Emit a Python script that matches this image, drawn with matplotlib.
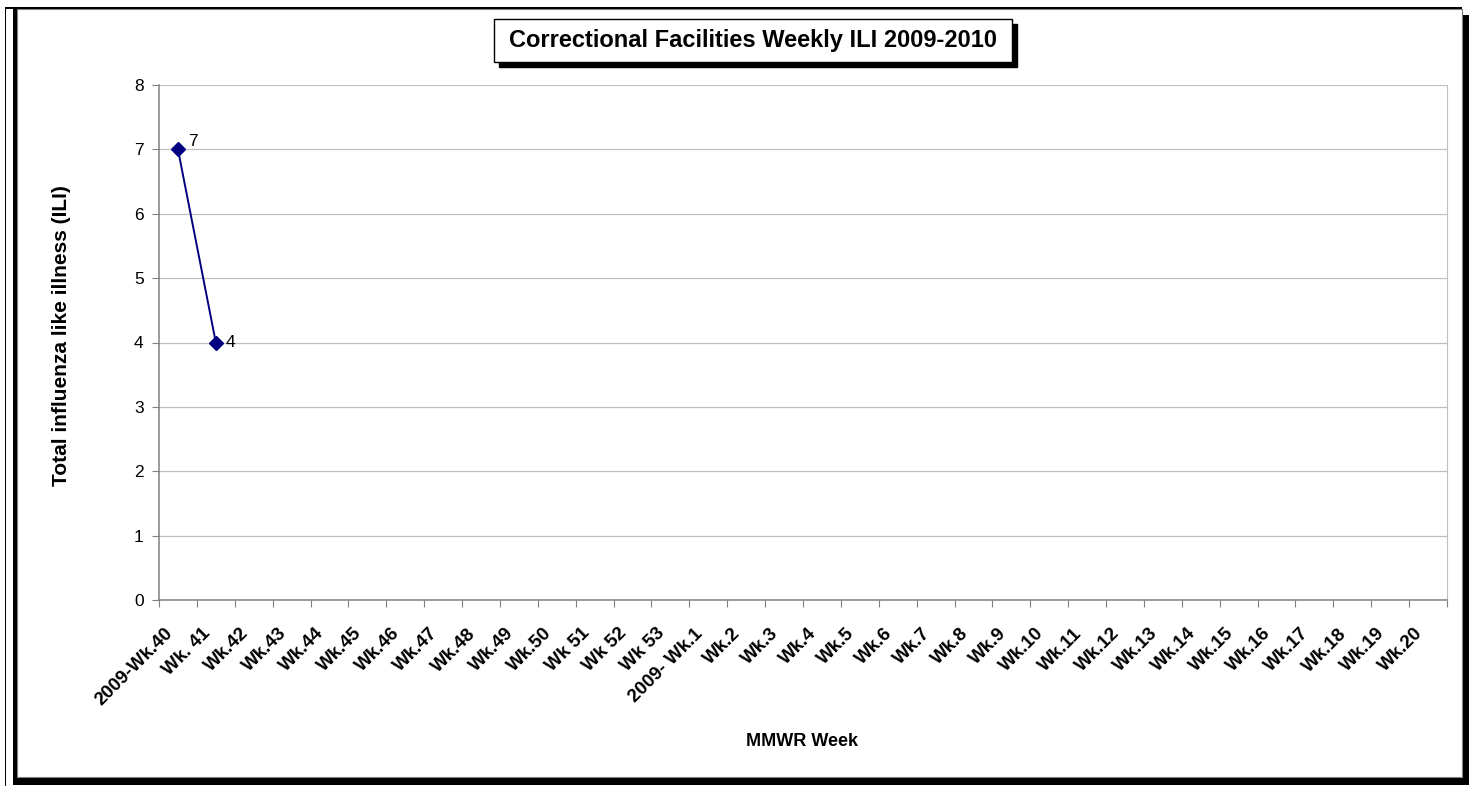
import matplotlib
matplotlib.use("Agg")
import matplotlib.pyplot as plt
from matplotlib.patches import Rectangle
from matplotlib.transforms import ScaledTranslation, blended_transform_factory

plt.rcParams['font.family'] = ['Liberation Sans', 'DejaVu Sans']

categories = ["2009-Wk.40", "Wk. 41", "Wk.42", "Wk.43", "Wk.44", "Wk.45", "Wk.46",
              "Wk.47", "Wk.48", "Wk.49", "Wk.50", "Wk 51", "Wk 52", "Wk 53",
              "2009- Wk.1", "Wk.2", "Wk.3", "Wk.4", "Wk.5", "Wk.6", "Wk.7", "Wk.8",
              "Wk.9", "Wk.10", "Wk.11", "Wk.12", "Wk.13", "Wk.14", "Wk.15", "Wk.16",
              "Wk.17", "Wk.18", "Wk.19", "Wk.20"]
ili_values = [7, 4]

W, H = 1473, 789
fig = plt.figure(figsize=(W / 100, H / 100), dpi=100)

def fx(x): return x / W
def fy(y): return 1 - y / H

# plot area: x 159..1447, y 85..600
ax = fig.add_axes([fx(159), fy(600), fx(1447) - fx(159), fy(85) - fy(600)])
ax.set_zorder(5)
n = len(categories)
xs = list(range(len(ili_values)))
ax.plot(xs, ili_values, color='#000080', lw=1.4, marker='D', ms=7,
        markerfacecolor='#000080', markeredgecolor='#000080', zorder=3, clip_on=False)
for x, v in zip(xs, ili_values):
    ax.annotate(str(v), (x, v), xytext=(7, 0), textcoords='offset points',
                fontsize=12.5, ha='left', va='bottom' if v == 7 else 'center')

ax.set_xlim(-0.5, n - 0.5)
ax.set_ylim(0, 8)
ax.set_yticks(range(0, 9))
ax.set_yticklabels([str(i) for i in range(0, 9)], fontsize=12.5)
ax.yaxis.grid(True, color='#c0c0c0', lw=0.9)
ax.set_axisbelow(True)

# category boundary ticks
ax.set_xticks([i - 0.5 for i in range(n + 1)])
ax.set_xticklabels([])
ax.tick_params(axis='x', which='major', length=5, color='#808080', direction='out')
ax.tick_params(axis='y', length=5, color='#808080', direction='out', pad=6)

# category labels, rotated 45 degrees
trans = blended_transform_factory(ax.transData, ax.transAxes) + \
    ScaledTranslation(-14 / 100, -25 / 100, fig.dpi_scale_trans)
for i, lab in enumerate(categories):
    ax.text(i, 0, lab, transform=trans, rotation=45, ha='right', va='top',
            rotation_mode='anchor', fontsize=13.5, fontweight='bold', clip_on=False)

for s in ['left', 'bottom']:
    ax.spines[s].set_color('#808080')
    ax.spines[s].set_linewidth(1.1)
ax.spines['top'].set_visible(False)
ax.spines['right'].set_color('#c0c0c0')

fig.text(fx(62), fy(336), 'Total influenza like illness (ILI)', rotation=90, ha='center', va='center',
         fontsize=15, fontweight='bold')
fig.text(fx(802), fy(741), 'MMWR Week', ha='center', va='center', fontsize=13, fontweight='bold')

# title box with shadow
fig.patches.append(Rectangle((fx(499), fy(67)), fx(1017) - fx(499), fy(24) - fy(67),
                             transform=fig.transFigure, facecolor='black', edgecolor='black', zorder=1))
fig.patches.append(Rectangle((fx(494), fy(62)), fx(1012) - fx(494), fy(19) - fy(62),
                             transform=fig.transFigure, facecolor='white', edgecolor='black',
                             lw=1.0, zorder=2))
fig.text(fx(753), fy(41), 'Correctional Facilities Weekly ILI 2009-2010', ha='center', va='center',
         fontsize=17, fontweight='bold', zorder=3)

# outer frame with shadow
fig.patches.append(Rectangle((fx(13), fy(785)), fx(1469) - fx(13), fy(15) - fy(785),
                             transform=fig.transFigure, facecolor='black', edgecolor='none', zorder=0))
fig.patches.append(Rectangle((fx(17), fy(777)), fx(1462) - fx(17), fy(9) - fy(777),
                             transform=fig.transFigure, facecolor='white', edgecolor='#808080',
                             lw=0.8, zorder=0))
fig.patches.append(Rectangle((fx(5), fy(786)), fx(6) - fx(5), fy(7) - fy(786),
                             transform=fig.transFigure, facecolor='black', edgecolor='none', zorder=0))
fig.patches.append(Rectangle((fx(5), fy(9)), fx(1462) - fx(5), fy(7) - fy(9),
                             transform=fig.transFigure, facecolor='black', edgecolor='none', zorder=0))
fig.patches.append(Rectangle((fx(13), fy(785)), fx(17) - fx(13), fy(9) - fy(785),
                             transform=fig.transFigure, facecolor='black', edgecolor='none', zorder=0))

fig.savefig('out.png', dpi=100)
